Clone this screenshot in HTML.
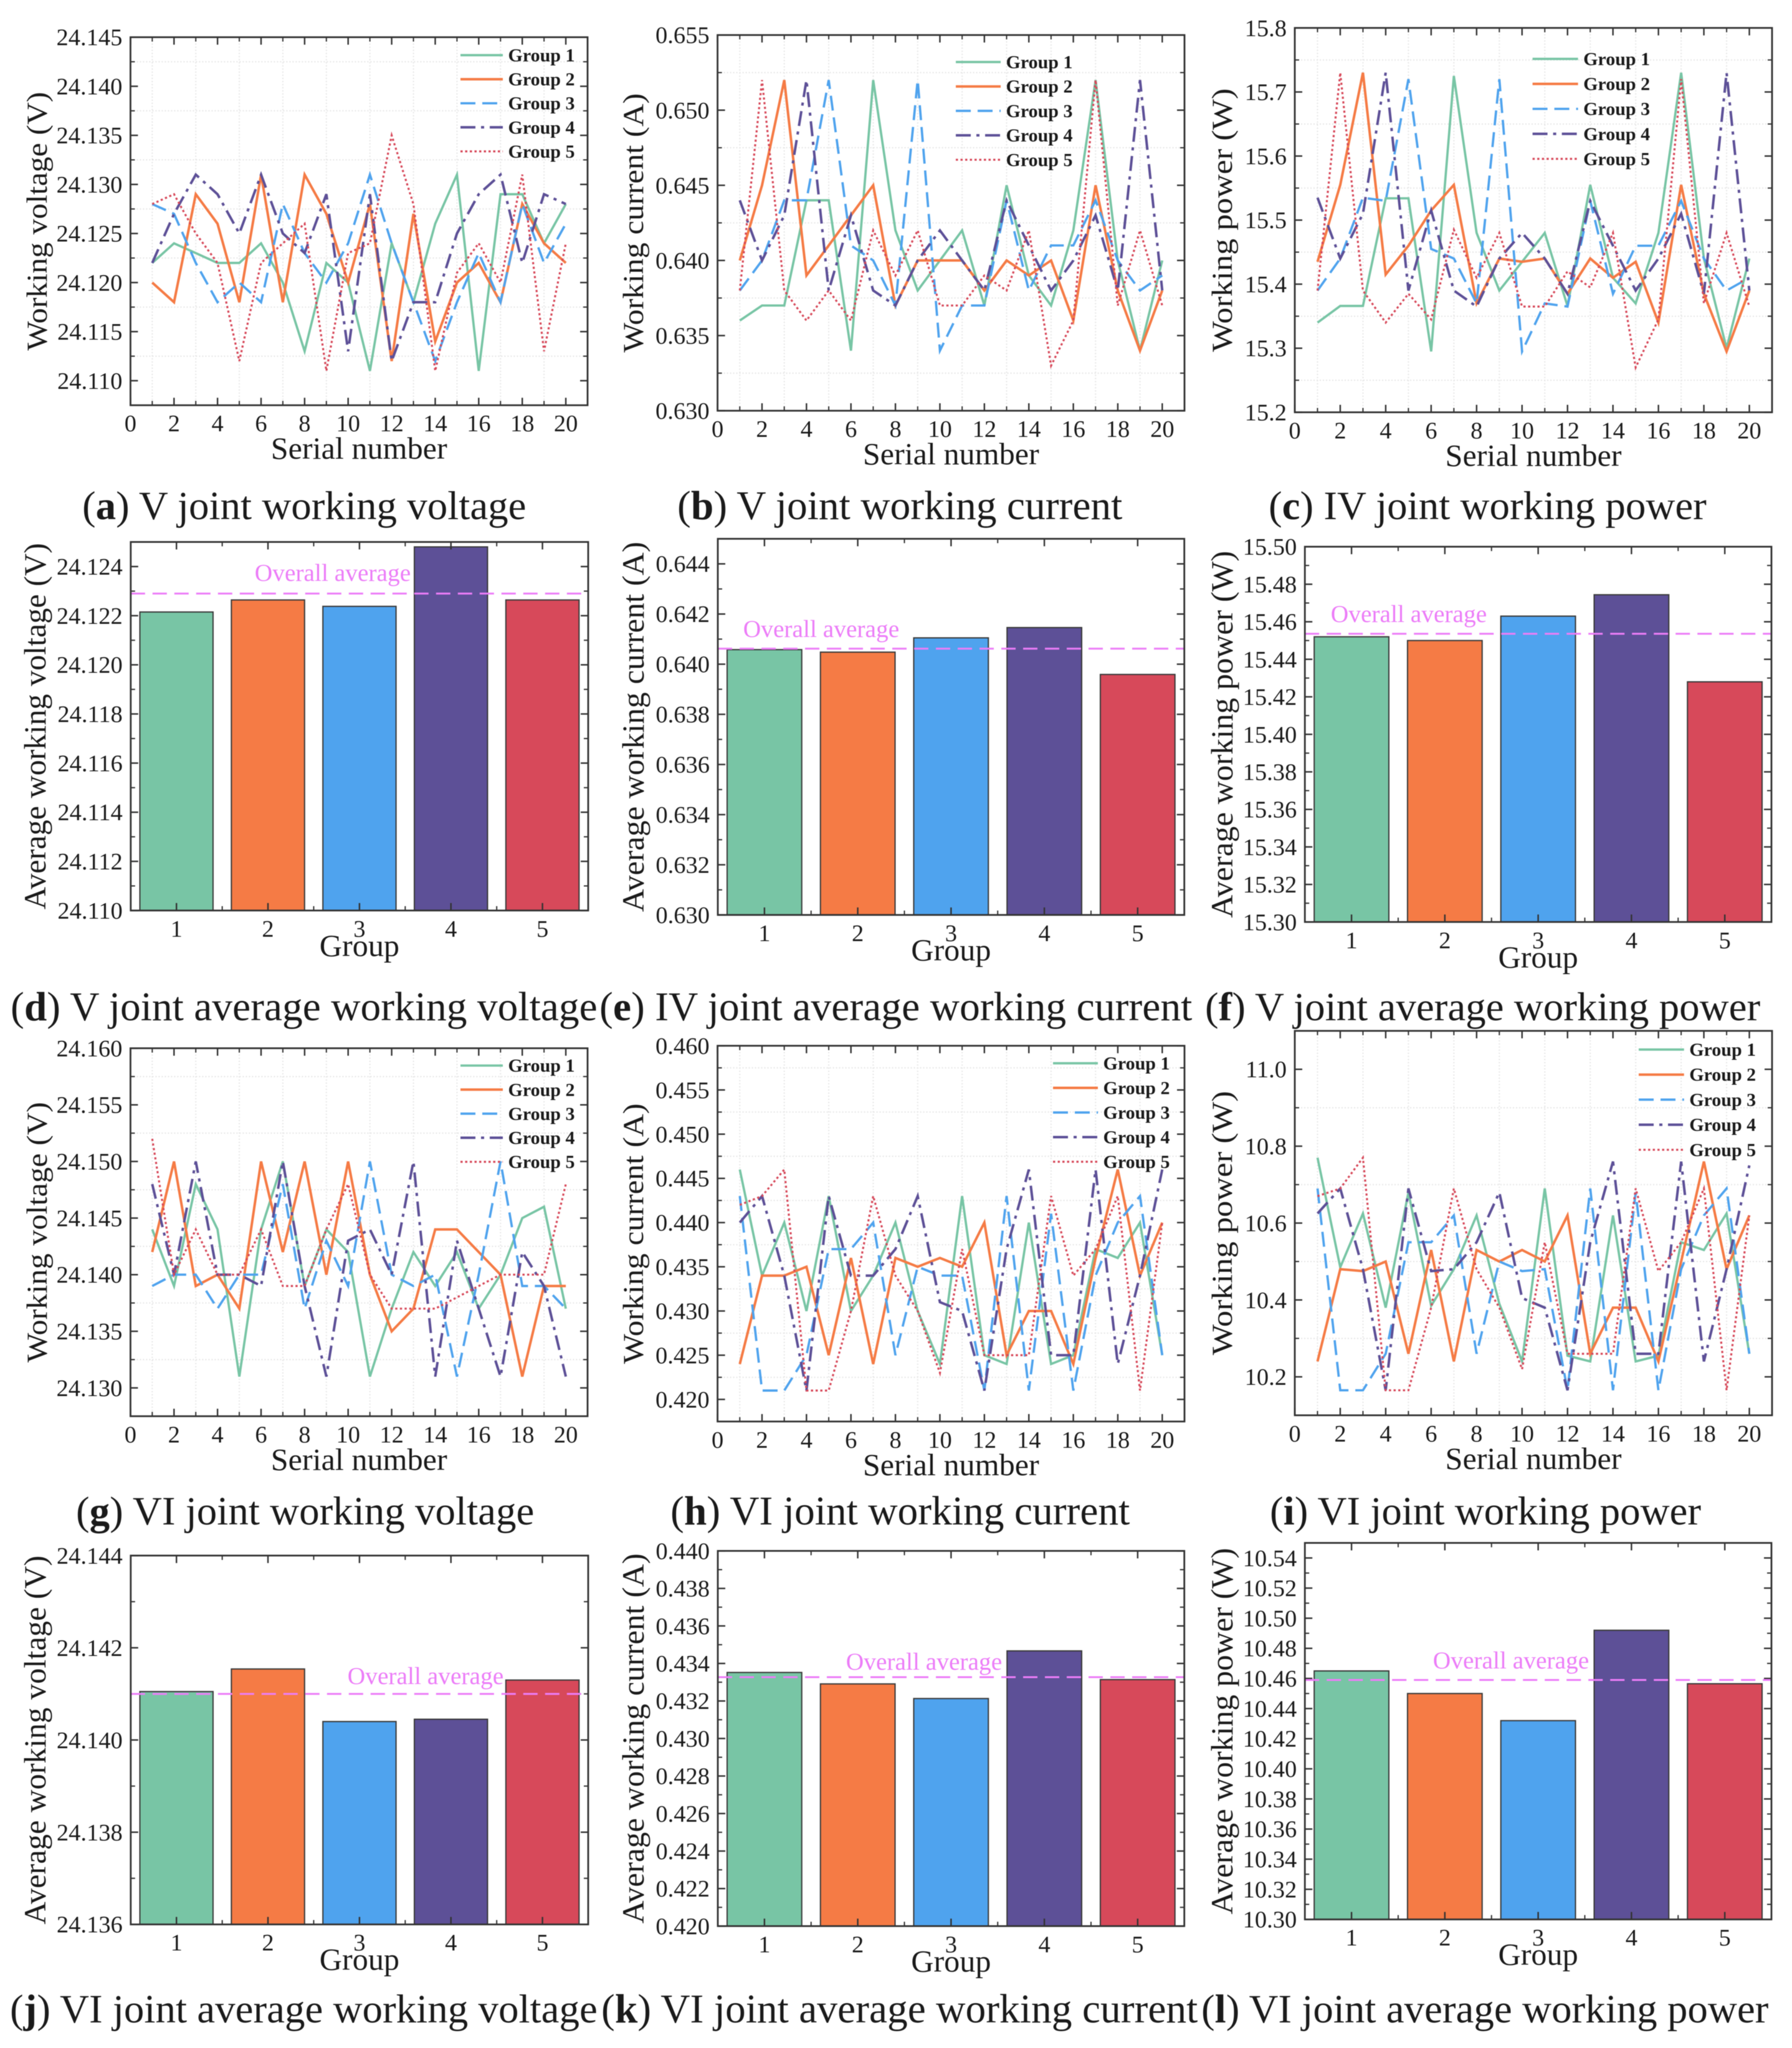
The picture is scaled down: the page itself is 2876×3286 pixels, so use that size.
<!DOCTYPE html>
<html lang="en">
<head>
<meta charset="utf-8">
<title>Joint working voltage, current and power</title>
<style>
html,body{margin:0;padding:0;background:#fff;}
svg{display:block;filter:blur(.6px);}
text{font-family:"Liberation Serif","Times New Roman",serif;fill:#1a1a1a;}
</style>
</head>
<body>
<svg id="figure" xmlns="http://www.w3.org/2000/svg" width="2876" height="3286" viewBox="0 0 2876 3286">
<rect x="0" y="0" width="2876" height="3286" fill="#fff"/>
<g font-size="65">
<text x="132" y="833">(<tspan font-weight="bold">a</tspan>) V joint working voltage</text>
<text x="1087" y="833" font-size="65.5">(<tspan font-weight="bold">b</tspan>) V joint working current</text>
<text x="2036" y="833">(<tspan font-weight="bold">c</tspan>) IV joint working power</text>
<text x="17" y="1637" font-size="65.5">(<tspan font-weight="bold">d</tspan>) V joint average working voltage</text>
<text x="962" y="1637" font-size="65.6">(<tspan font-weight="bold">e</tspan>) IV joint average working current</text>
<text x="1934" y="1637">(<tspan font-weight="bold">f</tspan>) V joint average working power</text>
<text x="122" y="2446">(<tspan font-weight="bold">g</tspan>) VI joint working voltage</text>
<text x="1076" y="2446" font-size="65.5">(<tspan font-weight="bold">h</tspan>) VI joint working current</text>
<text x="2038" y="2446">(<tspan font-weight="bold">i</tspan>) VI joint working power</text>
<text x="16" y="3245">(<tspan font-weight="bold">j</tspan>) VI joint average working voltage</text>
<text x="965" y="3245" font-size="65.5">(<tspan font-weight="bold">k</tspan>) VI joint average working current</text>
<text x="1928" y="3245">(<tspan font-weight="bold">l</tspan>) VI joint average working power</text>
</g>
</svg>
<script>
// ---------- chart data ----------
const serialLabels = ['0','2','4','6','8','10','12','14','16','18','20'];
const groupCategories = ['1','2','3','4','5'];
const groupNames = ['Group 1','Group 2','Group 3','Group 4','Group 5'];

const aYTicks = ['24.110','24.115','24.120','24.125','24.130','24.135','24.140','24.145'];
const aGroup1 = [24.122,24.124,24.123,24.122,24.122,24.124,24.120,24.113,24.122,24.120,24.111,24.124,24.118,24.126,24.131,24.111,24.129,24.129,24.124,24.128];
const aGroup2 = [24.120,24.118,24.129,24.126,24.118,24.131,24.118,24.131,24.127,24.120,24.128,24.112,24.127,24.114,24.120,24.122,24.118,24.128,24.124,24.122];
const aGroup3 = [24.128,24.127,24.122,24.118,24.120,24.118,24.128,24.123,24.120,24.124,24.131,24.124,24.118,24.112,24.118,24.123,24.118,24.128,24.122,24.126];
const aGroup4 = [24.122,24.127,24.131,24.129,24.125,24.131,24.125,24.123,24.129,24.113,24.129,24.112,24.118,24.118,24.125,24.129,24.131,24.122,24.129,24.128];
const aGroup5 = [24.128,24.129,24.125,24.122,24.112,24.122,24.124,24.126,24.111,24.123,24.124,24.135,24.128,24.111,24.121,24.124,24.120,24.131,24.113,24.124];

const bYTicks = ['0.630','0.635','0.640','0.645','0.650','0.655'];
const bGroup1 = [0.636,0.637,0.637,0.644,0.644,0.634,0.652,0.642,0.638,0.640,0.642,0.637,0.645,0.639,0.637,0.642,0.652,0.640,0.634,0.640];
const bGroup2 = [0.640,0.645,0.652,0.639,0.641,0.643,0.645,0.637,0.640,0.640,0.640,0.638,0.640,0.639,0.640,0.636,0.645,0.638,0.634,0.638];
const bGroup3 = [0.638,0.640,0.644,0.644,0.652,0.641,0.640,0.637,0.652,0.634,0.637,0.637,0.644,0.638,0.641,0.641,0.644,0.640,0.638,0.639];
const bGroup4 = [0.644,0.640,0.643,0.652,0.638,0.643,0.638,0.637,0.640,0.642,0.640,0.638,0.644,0.641,0.638,0.640,0.643,0.638,0.652,0.638];
const bGroup5 = [0.638,0.652,0.638,0.636,0.638,0.636,0.642,0.639,0.642,0.637,0.637,0.639,0.638,0.642,0.633,0.636,0.652,0.637,0.642,0.637];

const cYTicks = ['15.2','15.3','15.4','15.5','15.6','15.7','15.8'];
const cGroup1 = [15.34,15.366,15.366,15.534,15.534,15.295,15.725,15.48,15.39,15.435,15.48,15.366,15.555,15.41,15.37,15.48,15.73,15.44,15.30,15.44];
const cGroup2 = [15.435,15.555,15.73,15.415,15.46,15.515,15.555,15.37,15.44,15.435,15.44,15.385,15.44,15.41,15.435,15.34,15.555,15.385,15.295,15.39];
const cGroup3 = [15.39,15.44,15.535,15.53,15.72,15.455,15.44,15.37,15.72,15.295,15.37,15.365,15.53,15.385,15.46,15.46,15.53,15.44,15.39,15.41];
const cGroup4 = [15.535,15.44,15.51,15.73,15.39,15.515,15.39,15.365,15.44,15.48,15.44,15.385,15.53,15.46,15.39,15.44,15.51,15.385,15.73,15.39];
const cGroup5 = [15.39,15.73,15.39,15.34,15.385,15.345,15.485,15.41,15.48,15.365,15.365,15.42,15.395,15.48,15.27,15.345,15.72,15.37,15.48,15.365];

const gYTicks = ['24.130','24.135','24.140','24.145','24.150','24.155','24.160'];
const gGroup1 = [24.144,24.139,24.148,24.144,24.131,24.144,24.150,24.139,24.144,24.142,24.131,24.137,24.142,24.139,24.142,24.137,24.140,24.145,24.146,24.137];
const gGroup2 = [24.142,24.150,24.139,24.140,24.137,24.150,24.142,24.150,24.140,24.150,24.140,24.135,24.137,24.144,24.144,24.142,24.140,24.131,24.139,24.139];
const gGroup3 = [24.139,24.140,24.140,24.137,24.140,24.140,24.148,24.137,24.143,24.139,24.150,24.140,24.139,24.140,24.131,24.140,24.150,24.139,24.139,24.137];
const gGroup4 = [24.148,24.140,24.150,24.140,24.140,24.139,24.150,24.139,24.131,24.143,24.144,24.140,24.150,24.131,24.143,24.137,24.131,24.142,24.139,24.131];
const gGroup5 = [24.152,24.140,24.144,24.140,24.140,24.144,24.139,24.139,24.144,24.148,24.140,24.137,24.137,24.137,24.138,24.139,24.140,24.140,24.140,24.148];

const hYTicks = ['0.420','0.425','0.430','0.435','0.440','0.445','0.450','0.455','0.460'];
const hGroup1 = [0.446,0.434,0.440,0.430,0.443,0.430,0.434,0.440,0.430,0.424,0.443,0.425,0.424,0.440,0.424,0.425,0.437,0.436,0.440,0.425];
const hGroup2 = [0.424,0.434,0.434,0.435,0.425,0.436,0.424,0.436,0.435,0.436,0.435,0.440,0.425,0.430,0.430,0.424,0.436,0.446,0.434,0.440];
const hGroup3 = [0.443,0.421,0.421,0.425,0.437,0.437,0.440,0.425,0.435,0.434,0.434,0.421,0.443,0.421,0.441,0.421,0.434,0.440,0.443,0.425];
const hGroup4 = [0.440,0.443,0.434,0.421,0.443,0.434,0.434,0.437,0.443,0.431,0.430,0.421,0.437,0.446,0.425,0.425,0.446,0.424,0.434,0.446];
const hGroup5 = [0.442,0.443,0.446,0.421,0.421,0.430,0.443,0.434,0.430,0.423,0.437,0.425,0.425,0.425,0.443,0.434,0.437,0.443,0.421,0.440];

const iYTicks = ['10.2','10.4','10.6','10.8','11.0'];
const iGroup1 = [10.77,10.485,10.625,10.38,10.68,10.385,10.48,10.62,10.39,10.24,10.69,10.255,10.24,10.62,10.24,10.255,10.55,10.53,10.625,10.26];
const iGroup2 = [10.24,10.48,10.475,10.5,10.26,10.53,10.24,10.53,10.5,10.53,10.5,10.62,10.26,10.38,10.38,10.24,10.5,10.76,10.48,10.62];
const iGroup3 = [10.69,10.165,10.165,10.26,10.55,10.55,10.62,10.26,10.5,10.475,10.48,10.165,10.69,10.165,10.68,10.165,10.48,10.62,10.69,10.26];
const iGroup4 = [10.625,10.69,10.48,10.165,10.69,10.475,10.48,10.55,10.68,10.405,10.38,10.165,10.55,10.76,10.26,10.26,10.76,10.24,10.48,10.75];
const iGroup5 = [10.67,10.69,10.77,10.165,10.165,10.38,10.69,10.48,10.38,10.22,10.55,10.26,10.26,10.26,10.69,10.475,10.55,10.69,10.165,10.62];

const dYTicks = ['24.110','24.112','24.114','24.116','24.118','24.120','24.122','24.124'];
const dValues = [24.12215,24.12264,24.12238,24.1248,24.12264];
const dAverage = [24.1229];

const eYTicks = ['0.630','0.632','0.634','0.636','0.638','0.640','0.642','0.644'];
const eValues = [0.64058,0.64048,0.64105,0.64146,0.63959];
const eAverage = [0.64062];

const fYTicks = ['15.30','15.32','15.34','15.36','15.38','15.40','15.42','15.44','15.46','15.48','15.50'];
const fValues = [15.452,15.45,15.463,15.4744,15.428];
const fAverage = [15.4536];

const jYTicks = ['24.136','24.138','24.140','24.142','24.144'];
const jValues = [24.14105,24.14154,24.1404,24.14045,24.1413];
const jAverage = [24.141];

const kYTicks = ['0.420','0.422','0.424','0.426','0.428','0.430','0.432','0.434','0.436','0.438','0.440'];
const kValues = [0.43352,0.43291,0.43213,0.43467,0.43314];
const kAverage = [0.43327];

const lYTicks = ['10.30','10.32','10.34','10.36','10.38','10.40','10.42','10.44','10.46','10.48','10.50','10.52','10.54'];
const lValues = [10.465,10.45,10.432,10.492,10.4565];
const lAverage = [10.459];

// ---------- styles and layout ----------
const groupColors = ['#78c5a5','#f57b45','#4fa3ee','#5d5097','#d7495a'];
const groupDashes = ['none','none','24 11','24 9 5 9','3.5 4'];
const groupWidths = [3.7,4,3.7,4,3.2];

const linePanels = [
  {id:'a',x0:209.4,x1:943,y0:59.7,y1:650.2,yMin:24.1075,yMax:24.145,ticks:aYTicks,title:'Working voltage (V)',titleX:75,titleLen:415,series:[aGroup1,aGroup2,aGroup3,aGroup4,aGroup5],legX:739,legW:68,legY:88.5,legGap:38.6},
  {id:'b',x0:1151.6,x1:1901,y0:56.2,y1:659,yMin:0.63,yMax:0.655,ticks:bYTicks,title:'Working current (A)',titleX:1032,titleLen:416,series:[bGroup1,bGroup2,bGroup3,bGroup4,bGroup5],legX:1534,legW:72,legY:99.5,legGap:39.2},
  {id:'c',x0:2078,x1:2844,y0:44.8,y1:661.5,yMin:15.2,yMax:15.8,ticks:cYTicks,title:'Working power (W)',titleX:1977,titleLen:423,series:[cGroup1,cGroup2,cGroup3,cGroup4,cGroup5],legX:2459.6,legW:73,legY:94.5,legGap:40.1},
  {id:'g',x0:209.4,x1:943,y0:1681.9,y1:2272.3,yMin:24.1275,yMax:24.16,ticks:gYTicks,title:'Working voltage (V)',titleX:75,titleLen:418,series:[gGroup1,gGroup2,gGroup3,gGroup4,gGroup5],legX:739,legW:68,legY:1709.7,legGap:38.6},
  {id:'h',x0:1151.6,x1:1901,y0:1677.9,y1:2280.8,yMin:0.4175,yMax:0.46,ticks:hYTicks,title:'Working current (A)',titleX:1032,titleLen:418,series:[hGroup1,hGroup2,hGroup3,hGroup4,hGroup5],legX:1690,legW:72,legY:1706,legGap:39.5},
  {id:'i',x0:2078,x1:2844,y0:1654,y1:2270.8,yMin:10.1,yMax:11.1,ticks:iYTicks,title:'Working power (W)',titleX:1977,titleLen:424,series:[iGroup1,iGroup2,iGroup3,iGroup4,iGroup5],legX:2630,legW:72.7,legY:1684,legGap:40.2}
];

const barPanels = [
  {id:'d',x0:209.8,x1:944,y0:869.6,y1:1460.9,yMin:24.11,yMax:24.125,ticks:dYTicks,title:'Average working voltage (V)',titleX:73,titleLen:588,values:dValues,average:dAverage,noteX:534,noteY:932},
  {id:'e',x0:1152,x1:1900.7,y0:864.5,y1:1468,yMin:0.63,yMax:0.645,ticks:eYTicks,title:'Average working current (A)',titleX:1033,titleLen:594,values:eValues,average:eAverage,noteX:1318,noteY:1022},
  {id:'f',x0:2094.2,x1:2843,y0:877.2,y1:1479.3,yMin:15.3,yMax:15.5,ticks:fYTicks,title:'Average working power (W)',titleX:1978,titleLen:589,values:fValues,average:fAverage,noteX:2261,noteY:998},
  {id:'j',x0:209.8,x1:944,y0:2495.9,y1:3087.7,yMin:24.136,yMax:24.144,ticks:jYTicks,title:'Average working voltage (V)',titleX:73,titleLen:592,values:jValues,average:jAverage,noteX:683,noteY:2702},
  {id:'k',x0:1152,x1:1900.7,y0:2488.4,y1:3090.4,yMin:0.42,yMax:0.44,ticks:kYTicks,title:'Average working current (A)',titleX:1033,titleLen:594,values:kValues,average:kAverage,noteX:1483,noteY:2679},
  {id:'l',x0:2094.2,x1:2843,y0:2475.6,y1:3079.7,yMin:10.3,yMax:10.55,ticks:lYTicks,title:'Average working power (W)',titleX:1978,titleLen:588,values:lValues,average:lAverage,noteX:2425,noteY:2677}
];

// ---------- drawing helpers ----------
const SVG_NS = 'http://www.w3.org/2000/svg';
const figure = document.getElementById('figure');

function make(tag, attrs, parent, content) {
  const el = document.createElementNS(SVG_NS, tag);
  for (const key in attrs) el.setAttribute(key, attrs[key]);
  if (content !== undefined) el.textContent = content;
  parent.appendChild(el);
  return el;
}
function scaleX(p, v) { return p.x0 + (v - p.xMin) / (p.xMax - p.xMin) * (p.x1 - p.x0); }
function scaleY(p, v) { return p.y1 - (v - p.yMin) / (p.yMax - p.yMin) * (p.y1 - p.y0); }

function drawTicks(p, group) {
  const yVals = p.ticks.map(Number);
  const step = yVals[1] - yVals[0];
  const INK = '#333';
  yVals.forEach((v, i) => {
    const y = scaleY(p, v);
    const left = make('line', {x1:p.x0,x2:p.x0+12,y1:y,y2:y,stroke:INK,'stroke-width':2.4}, group);
    
    
    const right = make('line', {x1:p.x1,x2:p.x1-12,y1:y,y2:y,stroke:INK,'stroke-width':2.4}, group);
    
    
    const tickText = make('text', {x:p.x0-13,y:y+13,'text-anchor':'end','font-size':38.5}, group, p.ticks[i]);
    
    
  });
  const low = yVals[0] - step * 0.5;
  const count = Math.round((p.yMax - low) / step);
  for (let k = 0; k <= count; k++) {
    const v = low + step * k;
    if (v < p.yMin || v > p.yMax) continue;
    const y = scaleY(p, v);
    if (p.grid) {
      const gridH = make('line', {x1:p.x0,x2:p.x1,y1:y,y2:y,stroke:'#e6e6e6','stroke-width':2,'stroke-dasharray':'2 3'}, group);
      
      
    }
    const minorL = make('line', {x1:p.x0,x2:p.x0+7,y1:y,y2:y,stroke:INK,'stroke-width':2}, group);
    
    
    const minorR = make('line', {x1:p.x1,x2:p.x1-7,y1:y,y2:y,stroke:INK,'stroke-width':2}, group);
    
    
  }
}

function drawXTicks(p, group, labels, minorStep) {
  const INK = '#333';
  const vals = labels.map(Number);
  vals.forEach((v, i) => {
    const x = scaleX(p, v);
    const bottom = make('line', {x1:x,x2:x,y1:p.y1,y2:p.y1-12,stroke:INK,'stroke-width':2.4}, group);
    
    
    const top = make('line', {x1:x,x2:x,y1:p.y0,y2:p.y0+12,stroke:INK,'stroke-width':2.4}, group);
    
    
    const tickText = make('text', {x:x,y:p.y1+42,'text-anchor':'middle','font-size':38.5}, group, labels[i]);
    
    
    const m = v + minorStep;
    if (i < vals.length - 1 || m < p.xMax) {
      const mx = scaleX(p, m);
      if (p.grid) {
        const gridV = make('line', {x1:mx,x2:mx,y1:p.y0,y2:p.y1,stroke:'#e6e6e6','stroke-width':2,'stroke-dasharray':'2 3'}, group);
        
        
      }
      const mb = make('line', {x1:mx,x2:mx,y1:p.y1,y2:p.y1-7,stroke:INK,'stroke-width':2}, group);
      
      
      const mt = make('line', {x1:mx,x2:mx,y1:p.y0,y2:p.y0+7,stroke:INK,'stroke-width':2}, group);
      
      
    }
  });
}

function drawFrame(p, group) {
  const frame = make('rect', {x:p.x0,y:p.y0,width:p.x1-p.x0,height:p.y1-p.y0,fill:'none',stroke:'#333','stroke-width':2.8}, group);
  
  
}

function drawTitles(p, group, xTitle, xTitleY, size) {
  const cy = (p.y0 + p.y1) / 2;
  const yt = make('text', {x:0,y:0,transform:'translate('+p.titleX+','+cy+') rotate(-90)','text-anchor':'middle','font-size':size,textLength:p.titleLen,lengthAdjust:'spacingAndGlyphs'}, group, p.title);
  
  
  const xt = make('text', {x:(p.x0+p.x1)/2,y:p.y1+xTitleY,'text-anchor':'middle','font-size':50.2}, group, xTitle);
  
  
}

// ---------- line panels ----------
linePanels.forEach(p => {
  p.xMin = 0; p.xMax = 21; p.grid = true;
  const group = make('g', {}, figure);
  
  
  drawTicks(p, group);
  drawXTicks(p, group, serialLabels, 1);
  p.series.forEach((values, s) => {
    const pts = values.map((v, i) => scaleX(p, i + 1).toFixed(1) + ',' + scaleY(p, v).toFixed(1)).join(' ');
    const attrs = {points:pts,fill:'none',stroke:groupColors[s],'stroke-width':groupWidths[s],'stroke-linejoin':'miter'};
    if (groupDashes[s] !== 'none') attrs['stroke-dasharray'] = groupDashes[s];
    const line = make('polyline', attrs, group);
    
    
    const ly = p.legY + p.legGap * s;
    const keyAttrs = {x1:p.legX,x2:p.legX+p.legW,y1:ly,y2:ly,stroke:groupColors[s],'stroke-width':groupWidths[s]};
    if (groupDashes[s] !== 'none') keyAttrs['stroke-dasharray'] = groupDashes[s];
    const key = make('line', keyAttrs, group);
    
    
    const entry = make('text', {x:p.legX+p.legW+8.5,y:ly+10,'font-size':30,'font-weight':'bold'}, group, groupNames[s]);
    
    
  });
  drawFrame(p, group);
  drawTitles(p, group, 'Serial number', 86, 47);
});

// ---------- bar panels ----------
barPanels.forEach(p => {
  p.xMin = 0.5; p.xMax = 5.5; p.grid = false;
  const group = make('g', {}, figure);
  
  
  p.values.forEach((v, i) => {
    const cx = Number(groupCategories[i]);
    const left = scaleX(p, cx - 0.4);
    const right = scaleX(p, cx + 0.4);
    const top = scaleY(p, v);
    const bar = make('rect', {x:left,y:top,width:right-left,height:scaleY(p,p.yMin)-top,fill:groupColors[i],stroke:'#3a3a3a','stroke-width':2}, group);
    
    
  });
  drawTicks(p, group);
  drawXTicks(p, group, groupCategories, 0.5);
  const avgY = scaleY(p, p.average[0]);
  const avg = make('line', {x1:p.x0,x2:p.x1,y1:avgY,y2:avgY,stroke:'#ec7df8','stroke-width':3,'stroke-dasharray':'23 12'}, group);
  
  
  const note = make('text', {x:p.noteX,y:p.noteY,'text-anchor':'middle','font-size':39.4,style:'fill:#ec7df8'}, group, 'Overall average');
  
  
  drawFrame(p, group);
  drawTitles(p, group, 'Group', 73, 50);
});
</script>
</body>
</html>
